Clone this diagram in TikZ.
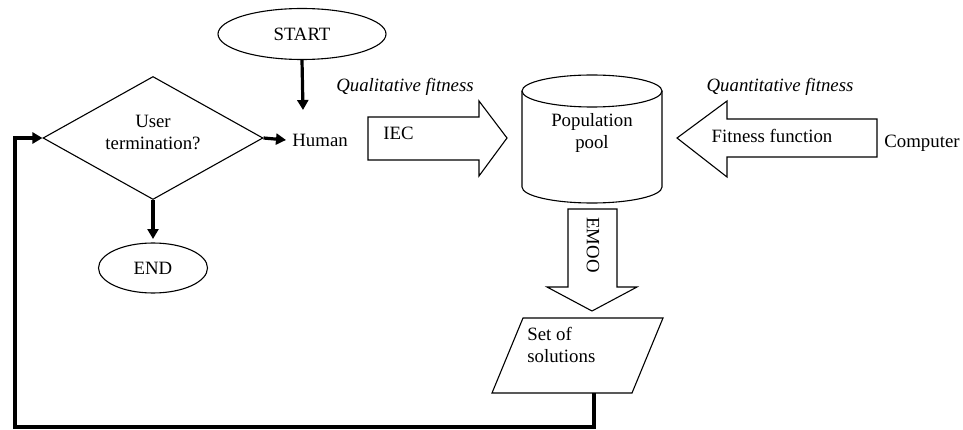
\documentclass[tikz,border=0pt]{standalone}
\usepackage{fontspec}
\setmainfont{Liberation Serif}
\usepackage{tikz}
\usetikzlibrary{shapes, arrows.meta, positioning}

\tikzset{
  flow/.style={-{Triangle[length=5pt,width=5.5pt]}, line width=1.6pt},
  thin line/.style={draw, line width=0.55pt},
  term/.style={ellipse, thin line, inner sep=0pt},
  lbl/.style={inner sep=0pt}
}

\begin{document}
\begin{tikzpicture}[x=0.5pt, y=0.5pt, font=\fontsize{9.4}{11}\selectfont]
        \useasboundingbox (0,0) rectangle (963,429);

        % Terminals and decision
        \node[term, minimum width=84pt, minimum height=25.5pt] (start) at (302,395) {START};
        \node[diamond, thin line, inner sep=0pt, minimum width=110pt, minimum height=61.5pt] (decide) at (153,291) {};
        \node[lbl, align=center, above=-6pt of decide.center] (decidetext) {User\\termination?};
        \node[term, minimum width=54.5pt, minimum height=25pt] (stop) at (153,161) {END};
        \node[inner sep=3pt, anchor=west] (human) at (286,289) {Human};
        \node[lbl] (computer) at (922,286) {Computer};

        % Population pool (cylinder)
        \draw[line width=0.55pt] (592,338) ellipse [x radius=70, y radius=16];
        \draw[line width=0.55pt] (522,338) -- (522,242)
              arc[start angle=180, end angle=360, x radius=70, y radius=16] -- (662,338);
        \node[lbl, align=center] (pool) at (592,296) {Population\\pool};

        % Block arrows
        \draw[line width=0.55pt] (368,269) -- (479,269) -- (479,253) -- (507,291)
              -- (479,328) -- (479,312) -- (368,312) -- cycle;
        \node[lbl, anchor=west] (iec) at (383,296) {IEC};
        \node[lbl] (qual) at (405,342) {\itshape Qualitative fitness};

        \draw[line width=0.55pt] (877,272) -- (727,272) -- (727,252) -- (677,291)
              -- (727,328) -- (727,310) -- (877,310) -- cycle;
        \node[lbl] (fitfun) at (772,293) {Fitness function};
        \node[lbl] (quant) at (780,342) {\itshape Quantitative fitness};

        \draw[line width=0.55pt] (568,220) -- (568,142) -- (547,142) -- (592,118)
              -- (637,142) -- (617,142) -- (617,220) -- cycle;
        \node[lbl, rotate=-90] (emoo) at (593,184) {EMOO};

        % Set of solutions
        \draw[line width=0.55pt] (523,111) -- (663,111) -- (632,36) -- (492,36) -- cycle;
        \node[lbl, align=left, anchor=west] (sol) at (527,84) {Set of\\solutions};
        \coordinate (solout) at (594,36);

        % Connectors
        \draw[flow] (start.south) -- (303,319);
        \draw[flow] (decide.east) -- (human.west);
        \draw[flow] (decide.south) -- (153,190);
        \draw[flow] (solout) -- (594,2) -- (15,2) -- (15,291) -- (decide.west);
      \end{tikzpicture}
\end{document}
